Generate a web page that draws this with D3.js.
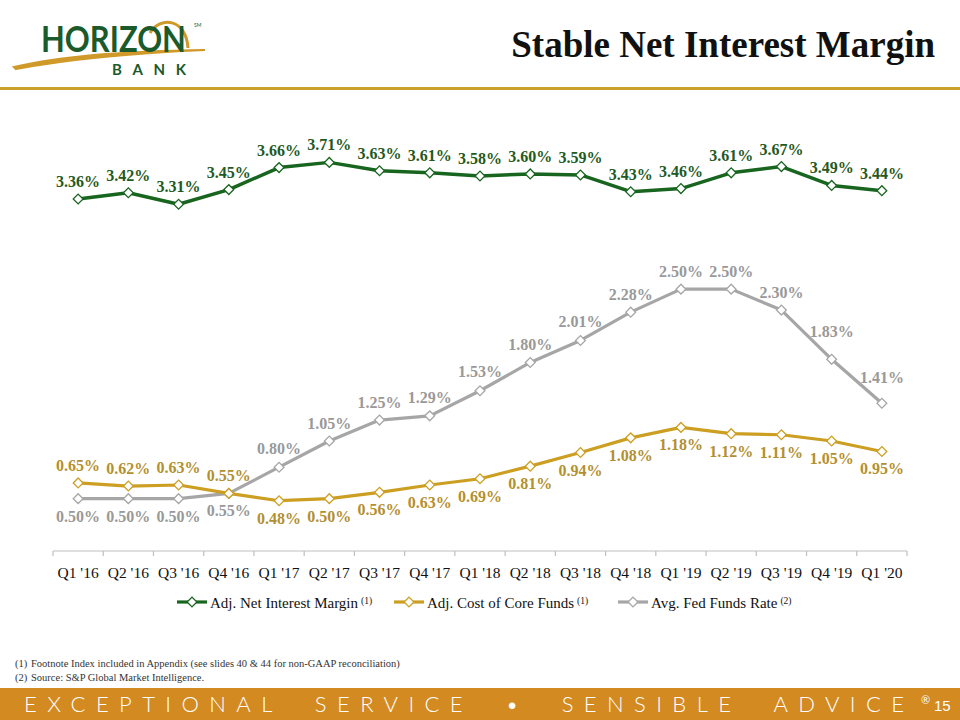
<!DOCTYPE html>
<html>
<head>
<meta charset="utf-8">
<script src="https://cdn.jsdelivr.net/npm/d3@7"></script>
<style>
  html, body { margin: 0; padding: 0; background: #fff; }
  svg { display: block; }
</style>
</head>
<body>
<svg id="chart" width="960" height="720"></svg>
<script>
const categories = ["Q1 '16","Q2 '16","Q3 '16","Q4 '16","Q1 '17","Q2 '17","Q3 '17","Q4 '17","Q1 '18","Q2 '18","Q3 '18","Q4 '18","Q1 '19","Q2 '19","Q3 '19","Q4 '19","Q1 '20"];
const netInterestMargin = [3.36,3.42,3.31,3.45,3.66,3.71,3.63,3.61,3.58,3.60,3.59,3.43,3.46,3.61,3.67,3.49,3.44];
const costOfCoreFunds   = [0.65,0.62,0.63,0.55,0.48,0.50,0.56,0.63,0.69,0.81,0.94,1.08,1.18,1.12,1.11,1.05,0.95];
const fedFundsRate      = [0.50,0.50,0.50,0.55,0.80,1.05,1.25,1.29,1.53,1.80,2.01,2.28,2.50,2.50,2.30,1.83,1.41];
const seriesNames = ["Adj. Net Interest Margin","Adj. Cost of Core Funds","Avg. Fed Funds Rate"];
const seriesNotes = ["(1)","(1)","(2)"];
const footnotes = ["Footnote Index included in Appendix (see slides 40 & 44 for non-GAAP reconciliation)","Source: S&P Global Market Intelligence."];
const footerText = "EXCEPTIONAL  SERVICE  •  SENSIBLE  ADVICE";
const pageNumber = "15";

const svg = d3.select("#chart");
const serif = "'Liberation Serif','DejaVu Serif',serif";

// ---------- header ----------
const logo = svg.append("g");
logo.append("path")
  .attr("d","M14,67 C60,56 130,51 205,50 C135,53 70,59 16,69 Z")
  .attr("fill","#d09a2a").attr("stroke","#d09a2a").attr("stroke-width",2.2);
logo.append("path")
  .attr("d","M150,33 C160,16 186,18 188,48")
  .attr("fill","none").attr("stroke","#d09a2a").attr("stroke-width",3);
const hz = logo.append("text").attr("x",0).attr("y",0)
  .attr("font-family","Lato,'Liberation Sans',sans-serif").attr("font-weight",700)
  .attr("font-size",37).attr("fill","#1b5a2b")
  .text("HORIZON");
const hzLen = hz.node().getComputedTextLength() || 170;
hz.attr("transform",`translate(41,52) scale(${145/hzLen},1)`);
logo.append("text").attr("x",194).attr("y",27)
  .attr("font-family","Lato,sans-serif").attr("font-size",5).attr("fill","#1b5a2b").text("SM");
logo.append("text").attr("x",112).attr("y",75)
  .attr("font-family","Lato,'Liberation Sans',sans-serif").attr("font-weight",700)
  .attr("font-size",15).attr("fill","#1b5a2b")
  .attr("textLength",74).attr("lengthAdjust","spacing")
  .text("BANK");

svg.append("text").attr("x",935).attr("y",57).attr("text-anchor","end")
  .attr("font-family",serif).attr("font-weight",700).attr("font-size",37)
  .attr("fill","#111").text("Stable Net Interest Margin");

svg.append("rect").attr("x",0).attr("y",87).attr("width",960).attr("height",3).attr("fill","#c9a02c");

// ---------- chart ----------
const x = d3.scaleBand().domain(categories).range([53,907]).paddingInner(0).paddingOuter(0);
const y = d3.scaleLinear().domain([0,4]).range([551,132]);
const cx = d => x(d) + x.bandwidth()/2;

const axisG = svg.append("g").attr("transform",`translate(0,${y(0)})`);
axisG.append("line").attr("x1",53).attr("x2",907).attr("stroke","#bfbfbf").attr("stroke-width",1.2);
const bounds = categories.map(c => x(c)).concat([907]);
axisG.selectAll("line.tick").data(bounds).join("line").attr("class","tick")
  .attr("x1",d=>d).attr("x2",d=>d).attr("y1",0).attr("y2",5)
  .attr("stroke","#bfbfbf").attr("stroke-width",1.2);
axisG.selectAll("text").data(categories).join("text")
  .attr("x",d=>cx(d)).attr("y",27).attr("text-anchor","middle")
  .attr("font-family",serif).attr("font-size",15.5).attr("fill","#111")
  .text(d=>d);

const series = [
  {values: netInterestMargin, color:"#17651e", text:"#1f5a22", width:3.5, labelPos: i => "above"},
  {values: costOfCoreFunds,   color:"#cc9f22", text:"#b3902f", width:3.2, labelPos: i => i < 4 ? "above" : "below"},
  {values: fedFundsRate,      color:"#a6a6a6", text:"#999999", width:3.2, labelPos: i => i < 4 ? "below" : "above"}
];

const line = d3.line().x((d,i)=>cx(categories[i])).y(d=>y(d));
const diamondPath = d3.symbol().type(d3.symbolSquare).size(48)();

[2,1,0].forEach(k => {
  const s = series[k];
  const g = svg.append("g");
  g.append("path").datum(s.values).attr("d",line)
    .attr("fill","none").attr("stroke",s.color).attr("stroke-width",s.width).attr("stroke-linejoin","round");
  g.selectAll("path.m").data(s.values).join("path").attr("class","m")
    .attr("d",diamondPath)
    .attr("transform",(d,i)=>`translate(${cx(categories[i])},${y(d)}) rotate(45)`)
    .attr("fill","#fff").attr("stroke",s.color).attr("stroke-width",1.3);
});

const half = 21;
function lineYAt(vals, i, dx) {
  const j = dx < 0 ? i - 1 : i + 1;
  if (j < 0 || j >= vals.length) return null;
  const x0 = cx(categories[i]), x1 = cx(categories[j]);
  const t = Math.abs(dx) / Math.abs(x1 - x0);
  return y(vals[i]) + (y(vals[j]) - y(vals[i])) * t;
}
[0,1,2].forEach(k => {
  const s = series[k];
  svg.append("g").selectAll("text").data(s.values).join("text")
    .attr("x",(d,i)=>cx(categories[i]))
    .attr("y",(d,i)=> {
      const py = y(d);
      const edges = [lineYAt(s.values,i,-half), lineYAt(s.values,i,half)].filter(v=>v!==null);
      if (s.labelPos(i)==="above") {
        return Math.min(py-12, ...edges.map(e=>e-2));
      } else {
        return Math.max(py+23, ...edges.map(e=>e+14));
      }
    })
    .attr("text-anchor","middle")
    .attr("font-family",serif).attr("font-weight",700).attr("font-size",16)
    .attr("fill",s.text)
    .text(d=>d.toFixed(2)+"%");
});

// ---------- legend ----------
const legendX = [177, 394, 618];
const legend = svg.append("g");
series.forEach((s,k) => {
  const g = legend.append("g").attr("transform",`translate(${legendX[k]},602)`);
  g.append("line").attr("x1",0).attr("x2",30).attr("stroke",s.color).attr("stroke-width",3.2);
  g.append("path").attr("d",diamondPath).attr("transform","translate(15,0) rotate(45)")
    .attr("fill","#fff").attr("stroke",s.color).attr("stroke-width",1.3);
  const t = g.append("text").attr("x",33).attr("y",5.5)
    .attr("font-family",serif).attr("font-size",15).attr("fill","#111");
  t.append("tspan").text(seriesNames[k]);
  t.append("tspan").attr("dx",3).attr("dy",-4).attr("font-size",9.5).text(seriesNotes[k]);
});

// ---------- footnotes ----------
footnotes.forEach((f,i) => {
  svg.append("text").attr("x",15).attr("y",667+i*14)
    .attr("font-family",serif).attr("font-size",10.5).attr("fill","#333").text(`(${i+1})`);
  svg.append("text").attr("x",31).attr("y",667+i*14)
    .attr("font-family",serif).attr("font-size",10.5).attr("fill","#333").text(f);
});

// ---------- footer ----------
svg.append("rect").attr("x",0).attr("y",688).attr("width",960).attr("height",32).attr("fill","#d38a20");
svg.append("text").attr("x",24).attr("y",712)
  .attr("font-family","Lato,'Open Sans',sans-serif").attr("font-weight",300)
  .attr("font-size",22).attr("fill","#fff")
  .attr("xml:space","preserve").style("white-space","pre")
  .attr("textLength",880).attr("lengthAdjust","spacing")
  .text(footerText);
svg.append("text").attr("x",921).attr("y",704)
  .attr("font-family","Lato,sans-serif").attr("font-size",11).attr("fill","#fff").text("®");
svg.append("text").attr("x",934).attr("y",711)
  .attr("font-family","'Liberation Sans Narrow','Liberation Sans',sans-serif").attr("font-size",15).attr("fill","#fff").text(pageNumber);
</script>
</body>
</html>
